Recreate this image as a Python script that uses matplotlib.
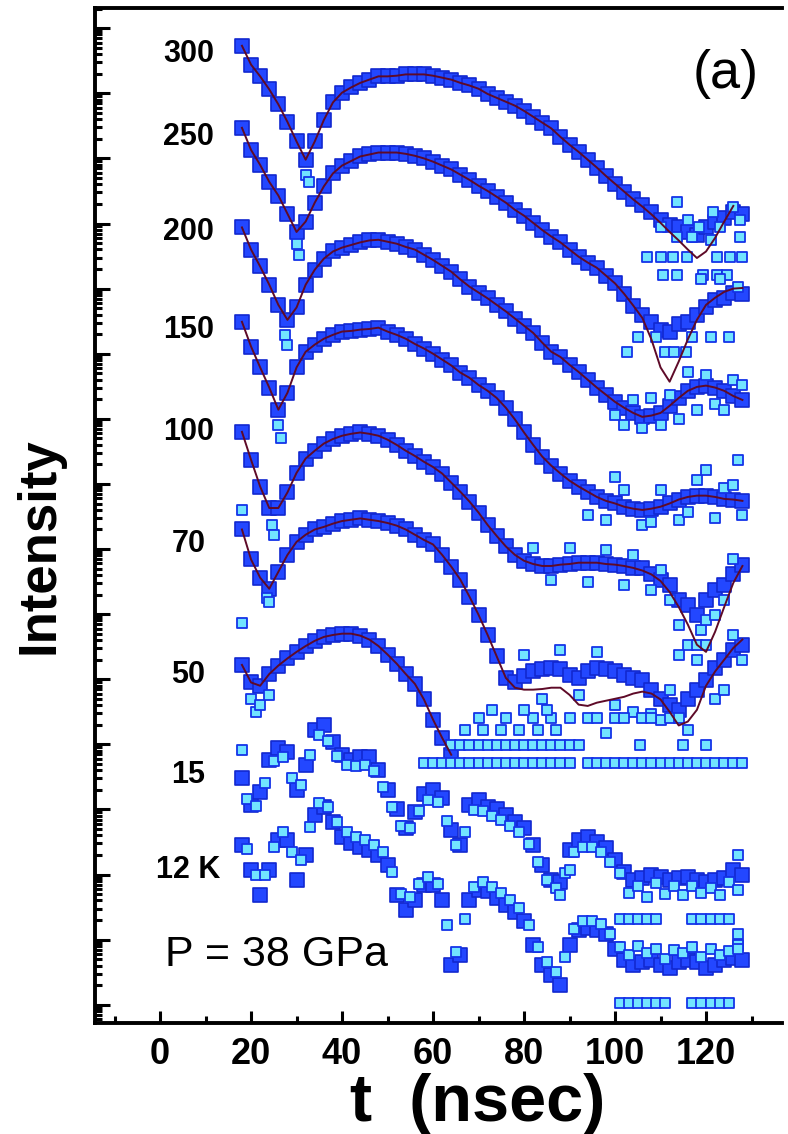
import numpy as np
import matplotlib
matplotlib.use("Agg")
import matplotlib.pyplot as plt
from matplotlib.ticker import LogLocator, NullFormatter, MultipleLocator

nan = np.nan

# time channels (ns)
t = np.arange(18, 129, 2)
t_odd = np.arange(19, 128, 2)

temps = ["300", "250", "200", "150", "100", "70", "50", "15", "12 K"]
label_pos = [14.61, 13.33, 11.87, 10.37, 8.80, 7.07, 5.07, 3.53, 2.07]

# log10 intensity (curves are stacked), data and fit
d300 = [14.73, 14.44, 14.26, 14.06, 13.83, 13.56, 13.26, 12.98, 13.26, 13.59,
        13.86, 14.01, 14.09, 14.16, 14.21, 14.26, 14.26, 14.27, 14.29, 14.29,
        14.29, 14.27, 14.24, 14.21, 14.16, 14.12, 14.07, 13.99, 13.93, 13.87,
        13.81, 13.73, 13.64, 13.55, 13.46, 13.33, 13.21, 13.10, 12.98, 12.86,
        12.73, 12.61, 12.49, 12.37, 12.29, 12.18, 12.06, 11.98, 11.94, 11.87,
        11.83, 11.94, 12.03, 12.09, 12.18, 12.14]
f300 = [14.73, 14.44, 14.26, 14.06, 13.83, 13.56, 13.26, 12.98, 13.26, 13.59,
        13.86, 14.01, 14.09, 14.16, 14.21, 14.26, 14.26, 14.27, 14.29, 14.29,
        14.29, 14.27, 14.24, 14.21, 14.16, 14.12, 14.07, 13.99, 13.93, 13.87,
        13.81, 13.73, 13.64, 13.55, 13.46, 13.33, 13.21, 13.10, 12.98, 12.86,
        12.73, 12.61, 12.49, 12.37, 12.26, 12.14, 12.01, 11.87, 11.74, 11.60,
        11.47, 11.57, 11.78, 12.03, 12.27, nan]
x300 = [32, 32.8, 113.6, 121.5, 126, 127.5, 116, 118.5, 123, 127.5,
        117, 113.6, 121, 110, 107, 110, 112.7, 115.8, 122.4, 125.3,
        127.8, 110.5, 113.6, 119.3, 122.4, 124.6]
e300 = [12.75, 12.63, 12.33, 12.17, 12.26, 12.06, 12.06, 11.95, 11.95, 11.80,
        11.80, 11.80, 11.75, 11.95, 11.49, 11.49, 11.49, 11.49, 11.49, 11.49,
        11.49, 11.21, 11.21, 11.21, 11.21, 11.21]

d250 = [13.47, 13.13, 12.90, 12.64, 12.43, 12.15, 11.87, 12.03, 12.32, 12.57,
        12.77, 12.89, 12.96, 13.03, 13.06, 13.09, 13.09, 13.09, 13.07, 13.04,
        13.00, 12.95, 12.89, 12.83, 12.75, 12.67, 12.58, 12.50, 12.41, 12.32,
        12.21, 12.12, 12.01, 11.90, 11.80, 11.71, 11.60, 11.49, 11.40, 11.32,
        11.20, 11.08, 10.92, 10.74, 10.60, 10.49, 10.37, 10.34, 10.45, 10.49,
        10.60, 10.71, 10.83, 10.86, 10.94, 10.91]
f250 = [13.47, 13.13, 12.90, 12.64, 12.43, 12.15, 11.87, 12.03, 12.32, 12.57,
        12.77, 12.89, 12.96, 13.03, 13.06, 13.09, 13.09, 13.09, 13.07, 13.04,
        13.00, 12.95, 12.89, 12.83, 12.75, 12.67, 12.58, 12.50, 12.41, 12.32,
        12.21, 12.12, 12.01, 11.90, 11.80, 11.71, 11.60, 11.49, 11.40, 11.32,
        11.20, 11.08, 10.92, 10.74, 10.55, 10.22, 9.79, 9.57, 9.88, 10.22,
        10.52, 10.75, 10.86, 10.95, 11.00, 11.01]
x250 = [30, 30.5, 102.6, 111, 113, 115.5, 105, 109, 117, 121, 125, 127, 119, 123]
e250 = [11.68, 11.52, 10.02, 10.02, 10.02, 10.02, 10.26, 10.26, 10.26, 10.26,
        10.26, 11.03, 11.14, 11.14]

d200 = [11.94, 11.60, 11.34, 11.06, 10.75, 10.52, 10.71, 11.06, 11.29, 11.46,
        11.57, 11.63, 11.67, 11.71, 11.74, 11.75, 11.72, 11.69, 11.64, 11.60,
        11.52, 11.44, 11.35, 11.26, 11.14, 11.03, 10.94, 10.85, 10.75, 10.65,
        10.54, 10.43, 10.32, 10.17, 10.03, 9.95, 9.83, 9.72, 9.60, 9.48,
        9.37, 9.26, 9.17, 9.09, 9.03, 9.05, 9.09, 9.20, 9.32, 9.43,
        9.49, 9.51, 9.48, 9.43, 9.35, 9.29]
f200 = d200
x200 = [27.5, 28, 100, 102, 104, 106, 108, 110, 112, 114, 116, 118, 120, 122,
        124, 126, 128]
e200 = [10.29, 10.14, 9.06, 8.91, 9.29, 8.86, 9.32, 8.91, 9.37, 8.99, 9.72, 9.14,
        9.68, 9.22, 9.14, 9.60, 9.52]

d150 = [10.49, 10.11, 9.79, 9.48, 9.14, 9.40, 9.79, 10.03, 10.14, 10.23,
        10.29, 10.34, 10.35, 10.37, 10.38, 10.40, 10.34, 10.29, 10.23, 10.15,
        10.08, 10.00, 9.91, 9.82, 9.71, 9.63, 9.52, 9.43, 9.32, 9.17,
        8.99, 8.79, 8.60, 8.42, 8.28, 8.16, 8.05, 7.96, 7.88, 7.80,
        7.74, 7.70, 7.65, 7.62, 7.60, 7.62, 7.65, 7.70, 7.76, 7.80,
        7.82, 7.82, 7.80, 7.77, 7.76, 7.74]
f150 = d150
x150 = [26, 26.5, 94, 98, 100, 102, 106, 108, 110, 114, 116, 118, 120, 122, 124,
        126, 127, 128]
e150 = [8.91, 8.71, 7.52, 7.45, 8.10, 7.91, 7.37, 7.42, 7.91, 7.45, 7.57, 8.06,
        8.22, 7.48, 7.94, 7.99, 8.37, 7.52]

d100 = [8.80, 8.37, 7.96, 7.63, 7.63, 7.87, 8.17, 8.39, 8.51, 8.62,
        8.69, 8.74, 8.77, 8.79, 8.77, 8.74, 8.68, 8.60, 8.51, 8.43,
        8.34, 8.26, 8.16, 8.02, 7.88, 7.73, 7.56, 7.37, 7.20, 7.04,
        6.91, 6.82, 6.77, 6.74, 6.74, 6.76, 6.77, 6.79, 6.79, 6.79,
        6.77, 6.76, 6.74, 6.71, 6.71, 6.61, 6.53, 6.45, 6.22, 6.14,
        5.99, 6.22, 6.37, 6.45, 6.61, 6.76]
f100 = [8.80, 8.37, 7.96, 7.63, 7.63, 7.87, 8.17, 8.39, 8.51, 8.62,
        8.69, 8.74, 8.77, 8.79, 8.77, 8.74, 8.68, 8.60, 8.51, 8.43,
        8.34, 8.26, 8.16, 8.02, 7.88, 7.73, 7.56, 7.37, 7.20, 7.04,
        6.91, 6.82, 6.77, 6.74, 6.74, 6.76, 6.77, 6.79, 6.79, 6.79,
        6.77, 6.76, 6.74, 6.71, 6.67, 6.61, 6.51, 6.34, 6.11, 5.84,
        5.53, 5.42, 5.73, 6.11, 6.48, 6.74]
x100 = [24.5, 25, 82, 86, 90, 94, 98, 102, 104, 108, 110, 112, 114, 116, 118,
        119, 120, 122, 124, 126]
e100 = [7.37, 7.22, 7.02, 6.53, 7.02, 6.50, 6.99, 6.45, 6.91, 6.37, 6.68, 6.22,
        5.84, 5.53, 5.53, 5.76, 5.91, 5.99, 6.22, 6.84]

d70 = [7.30, 6.84, 6.56, 6.39, 6.65, 6.91, 7.11, 7.22, 7.30, 7.34,
       7.39, 7.43, 7.45, 7.47, 7.45, 7.43, 7.40, 7.36, 7.30, 7.22,
       7.14, 7.07, 6.91, 6.73, 6.53, 6.27, 5.99, 5.68, 5.35, 5.02,
       4.96, 5.05, 5.12, 5.15, 5.18, 5.15, 5.07, 5.02, 5.12, 5.18,
       5.15, 5.12, 5.07, 5.02, 4.99, 4.84, 4.69, 4.61, 4.53, 4.69,
       4.84, 4.99, 5.18, 5.30, 5.45, 5.53]
f70 = [7.30, 6.84, 6.56, 6.39, 6.65, 6.91, 7.11, 7.22, 7.30, 7.34,
       7.39, 7.43, 7.45, 7.47, 7.45, 7.43, 7.40, 7.36, 7.30, 7.22,
       7.14, 7.07, 6.91, 6.73, 6.53, 6.27, 5.99, 5.68, 5.35, 5.02,
       4.87, 4.84, 4.84, 4.85, 4.87, 4.87, 4.76, 4.61, 4.59, 4.64,
       4.67, 4.70, 4.73, 4.78, 4.81, 4.78, 4.69, 4.50, 4.29, 4.35,
       4.53, 4.90, 5.12, 5.30, 5.48, 5.61]
x70 = [18, 23.5, 24, 80, 84, 88, 92, 96, 100, 104, 108, 110, 112, 114, 116, 118,
       120, 122, 124, 126, 128]
e70 = [7.60, 6.25, 6.18, 5.38, 4.69, 5.45, 4.76, 5.42, 4.61, 4.50, 4.46, 4.38,
       4.84, 5.38, 4.22, 5.30, 5.53, 4.69, 4.84, 5.68, 5.30]

d50 = [5.22, 4.95, 4.90, 5.08, 5.21, 5.32, 5.42, 5.51, 5.59, 5.65,
       5.68, 5.70, 5.70, 5.67, 5.61, 5.51, 5.38, 5.24, 5.08, 4.93,
       4.69, 4.38, 4.10, 3.84] + [nan] * 32
f50 = d50
x50 = [18, 20, 21, 22, 24,
       64, 66, 68, 70, 72, 74, 76, 78, 80, 82, 84, 86, 88, 90, 92,
       98, 105.5, 115, 120, 67, 71, 75, 79, 83, 87, 70, 76, 82, 86, 90,
       73, 80, 85, 94, 96, 100, 102, 106, 108, 112, 114]
e50 = [5.87, 4.69, 4.50, 4.61, 4.76,
       3.99, 3.99, 3.99, 3.99, 3.99, 3.99, 3.99, 3.99, 3.99, 3.99, 3.99, 3.99,
       3.99, 3.99, 3.99,
       4.18, 3.99, 3.99, 3.99, 4.22, 4.22, 4.22, 4.22, 4.22, 4.22,
       4.41, 4.41, 4.41, 4.41, 4.41, 4.53, 4.53, 4.53,
       4.40, 4.40, 4.40, 4.40, 4.40, 4.40, 4.40, 4.40]
# single-count floor of the 50 K spectrum
floor50_t = [58, 60, 62, 64, 66, 68, 70, 72, 74, 76, 78, 80, 82, 84, 86, 88, 90,
             94, 96, 98, 100, 102, 104, 106, 108, 110, 112, 114, 116, 118, 120,
             122, 124, 126, 128]
floor50 = 3.72

d15 = [3.49, 3.07, 3.27, 3.76, 3.95, 3.89, 3.30, 3.69, 4.22, 4.30,
       4.04, 3.84, 3.76, 3.81, 3.81, 3.61, 3.30, 3.00, 2.72, 2.96,
       3.23, 3.30, 3.18, 2.69, 2.46, 3.07, 3.15, 3.04, 3.00, 2.92,
       2.81, 2.72, 2.46, 2.15, 1.92, 1.89, 2.38, 2.53, 2.57, 2.50,
       2.41, 2.23, 2.04, 1.92, 1.95, 2.00, 1.97, 1.92, 1.95, 1.97,
       1.92, 1.89, 1.92, 1.95, 2.07, 2.00]
# lower edge of the 15 K band, odd channels
b15 = [3.16, 3.05, 3.40, 3.74, 3.80, 3.48, 3.38, 3.84, 4.14, 4.05,
       3.82, 3.68, 3.67, 3.69, 3.59, 3.34, 3.03, 2.74, 2.72, 2.98,
       3.15, 3.12, 2.82, 2.46, 2.65, 2.99, 2.98, 2.90, 2.84, 2.75,
       2.65, 2.47, 2.19, 1.92, 1.79, 2.02, 2.34, 2.43, 2.42, 2.34,
       2.20, 2.02, 1.72, 1.82, 1.66, 1.87, 1.70, 1.82, 1.68, 1.83,
       1.72, 1.79, 1.68, 1.89, 1.76]
x15 = [18, 101, 103, 105, 107, 109, 117, 119, 121, 123, 125, 127, 127, 88, 90]
e15 = [3.92, 1.31, 1.31, 1.31, 1.31, 1.31, 1.31, 1.31, 1.31, 1.31, 1.31, 2.30,
       0.92, 1.69, 2.07]

d12 = [2.46, 2.07, 1.69, 2.07, 2.53, 2.53, 1.92, 2.30, 2.92, 3.03,
       2.81, 2.57, 2.49, 2.43, 2.38, 2.30, 2.15, 1.69, 1.46, 1.61,
       1.84, 1.84, 1.61, 0.61, 0.77, 1.61, 1.77, 1.74, 1.64, 1.54,
       1.43, 1.28, 0.92, 0.61, 0.46, 0.31, 0.92, 1.15, 1.18, 1.15,
       1.08, 0.85, 0.69, 0.61, 0.65, 0.69, 0.61, 0.57, 0.66, 0.69,
       0.65, 0.57, 0.61, 0.69, 0.72, 0.69]
# upper edge of the 12 K band, odd channels
b12 = [2.39, 2.00, 2.00, 2.42, 2.65, 2.35, 2.23, 2.73, 3.10, 3.04,
       2.81, 2.65, 2.58, 2.53, 2.46, 2.35, 2.04, 1.70, 1.66, 1.85,
       1.96, 1.85, 1.23, 0.81, 1.31, 1.81, 1.88, 1.81, 1.71, 1.61,
       1.48, 1.22, 0.89, 0.66, 0.51, 0.74, 1.16, 1.29, 1.29, 1.24,
       1.09, 0.89, 0.77, 0.90, 0.79, 0.86, 0.71, 0.84, 0.80, 0.88,
       0.73, 0.86, 0.77, 0.83, 0.92]
x12 = [101, 103, 105, 107, 109, 111, 117, 119, 121, 123, 125, 127, 127]
e12 = [0.03, 0.03, 0.03, 0.03, 0.03, 0.03, 0.03, 0.03, 0.03, 0.03, 0.03, 1.08,
       0.85]

curves = [
    (d300, f300, x300, e300),
    (d250, f250, x250, e250),
    (d200, f200, x200, e200),
    (d150, f150, x150, e150),
    (d100, f100, x100, e100),
    (d70, f70, x70, e70),
    (d50, f50, x50 + floor50_t, e50 + [floor50] * len(floor50_t)),
    (d15, None, list(t_odd) + x15, b15 + e15),
    (d12, None, list(t_odd) + x12, b12 + e12),
]

plt.rcParams['font.family'] = ['Liberation Sans', 'DejaVu Sans']

fig = plt.figure(figsize=(7.88, 11.34), dpi=100)
ax = fig.add_axes([95 / 788, 1 - 1023 / 1134, 687 / 788, 1015 / 1134])

# dense channels read as a solid blue band, sparse ones as cyan squares
for d, f, xe, ye in curves:
    ax.scatter(t, 10 ** np.array(d), marker='s', s=95, c='#2347ff',
               edgecolors='#1228d0', linewidths=1.2, zorder=2)
    ax.scatter(xe, 10 ** np.array(ye), marker='s', s=48, c='#72e4ff',
               edgecolors='#1433e8', linewidths=1.3, zorder=2)
for d, f, xe, ye in curves:
    if f is not None:
        ax.plot(t, 10 ** np.array(f), color='#5e0a28', lw=1.4, zorder=3)

for lab, yl in zip(temps, label_pos):
    ax.text(6.2, 10 ** yl, lab, ha='center', va='center', fontsize=22,
            fontweight='bold')

ax.text(1.1, 10 ** 0.77, 'P = 38 GPa', ha='left', va='center', fontsize=31)
ax.text(124.4, 10 ** 14.3, '(a)', ha='center', va='center', fontsize=39)

ax.set_yscale('log')
ax.set_xlim(-14.3, 136.7)
ax.set_ylim(10 ** -0.28, 10 ** 15.31)

ax.xaxis.set_major_locator(MultipleLocator(20))
ax.xaxis.set_minor_locator(MultipleLocator(10))
ax.yaxis.set_major_locator(LogLocator(base=10, numticks=40))
ax.yaxis.set_minor_locator(LogLocator(base=10, subs=np.arange(2, 10) * 1.0, numticks=40))
ax.yaxis.set_major_formatter(NullFormatter())
ax.yaxis.set_minor_formatter(NullFormatter())

ax.tick_params(axis='x', which='major', direction='in', length=9, width=2.2,
               labelsize=26, pad=10)
ax.tick_params(axis='x', which='minor', direction='in', length=5, width=2.2)
ax.tick_params(axis='y', which='major', direction='in', length=11, width=2.2)
ax.tick_params(axis='y', which='minor', direction='in', length=5, width=2.2)
ax.tick_params(top=False, right=False)
for lbl in ax.get_xticklabels():
    lbl.set_fontweight('bold')

ax.spines['right'].set_visible(False)
for s in ['left', 'top', 'bottom']:
    ax.spines[s].set_linewidth(2.8)

fig.text(40 / 788, 1 - 546 / 1134, 'Intensity', rotation=90, ha='center',
         va='center', fontsize=38, fontweight='bold')
fig.text(478 / 788, 1 - 1104 / 1134, 't  (nsec)', ha='center', va='center',
         fontsize=48, fontweight='bold')

fig.savefig('out.png', dpi=100)
